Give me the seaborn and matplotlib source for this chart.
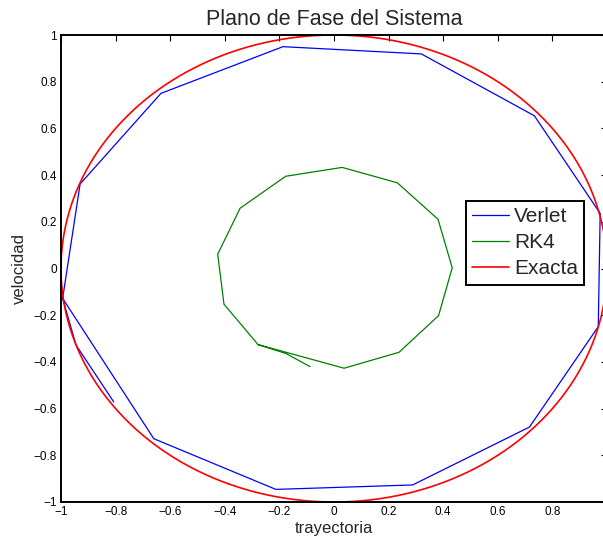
import numpy as np
import pandas as pd
import matplotlib
matplotlib.use("Agg")
import matplotlib.pyplot as plt
import seaborn as sns

# Verlet trajectory in the phase plane (position, velocity)
verlet_x = [-0.807, -0.945, -0.994, -0.930, -0.634, -0.187, 0.320, 0.734,
            0.975, 0.968, 0.716, 0.288, -0.213, -0.660, -0.994]
verlet_v = [-0.571, -0.328, -0.128, 0.362, 0.750, 0.950, 0.919, 0.654,
            0.236, -0.249, -0.679, -0.927, -0.946, -0.729, -0.128]

# RK4 trajectory
rk4_x = [-0.088, -0.176, -0.278, -0.403, -0.426, -0.344, -0.177, 0.030,
         0.232, 0.381, 0.433, 0.383, 0.238, 0.037, -0.278]
rk4_v = [-0.420, -0.364, -0.326, -0.153, 0.061, 0.258, 0.395, 0.433,
         0.367, 0.211, 0.003, -0.202, -0.359, -0.427, -0.326]

# Exact solution: unit-amplitude harmonic oscillator
amplitude = 1.0
t_exact = np.linspace(0.0, 2.0 * np.pi, 400)
exact_x = amplitude * np.cos(t_exact)
exact_v = -amplitude * np.sin(t_exact)

x_ticks = [-1, -0.8, -0.6, -0.4, -0.2, 0, 0.2, 0.4, 0.6, 0.8, 1]
y_ticks = [-1, -0.8, -0.6, -0.4, -0.2, 0, 0.2, 0.4, 0.6, 0.8, 1]


def tick_text(t):
    return f"{t:g}".replace("-", "\u2212")


sns.set_style("white")
plt.rcParams["font.family"] = ["Liberation Sans", "DejaVu Sans"]

fig = plt.figure(figsize=(6.03, 5.39), dpi=100)
ax = fig.add_axes([61 / 603, 37 / 539, 546 / 603, 467 / 539])

df_verlet = pd.DataFrame({"x": verlet_x, "v": verlet_v})
df_rk4 = pd.DataFrame({"x": rk4_x, "v": rk4_v})
df_exact = pd.DataFrame({"x": exact_x, "v": exact_v})

sns.lineplot(data=df_verlet, x="x", y="v", sort=False, estimator=None,
             color=(0, 0, 1), linewidth=0.9, label="Verlet", ax=ax)
sns.lineplot(data=df_rk4, x="x", y="v", sort=False, estimator=None,
             color=(0, 0.5, 0), linewidth=0.9, label="RK4", ax=ax)
sns.lineplot(data=df_exact, x="x", y="v", sort=False, estimator=None,
             color=(1, 0, 0), linewidth=1.2, label="Exacta", ax=ax)

ax.set_xlim(-1, 1)
ax.set_ylim(-1, 1)
ax.set_xticks(x_ticks)
ax.set_yticks(y_ticks)
# the right end of the x axis falls past the figure edge, so its label is left blank
ax.set_xticklabels([tick_text(t) if t < 1 else "" for t in x_ticks])
ax.set_yticklabels([tick_text(t) for t in y_ticks])
ax.tick_params(direction="in", length=4, width=0.8, labelsize=8.5,
               colors="black", top=True, right=True, pad=3)
for s in ax.spines.values():
    s.set_visible(True)
    s.set_color("black")
    s.set_linewidth(1.4)

ax.set_title("Plano de Fase del Sistema", fontsize=15.5, pad=7)
ax.set_xlabel("trayectoria", fontsize=12)
ax.set_ylabel("velocidad", fontsize=12)
ax.xaxis.set_label_coords(0.5, -0.04)
ax.yaxis.set_label_coords(-0.062, 0.5)

leg = ax.legend(loc="upper left", bbox_to_anchor=(466 / 603, 1 - 201 / 539),
                bbox_transform=fig.transFigure, fontsize=15, frameon=True,
                fancybox=False, borderaxespad=0, handlelength=1.75,
                handletextpad=0.25, borderpad=0.3, labelspacing=0.34)
leg.get_frame().set_edgecolor("black")
leg.get_frame().set_linewidth(1.4)
leg.get_frame().set_alpha(1)

fig.savefig("out.png", dpi=100)
